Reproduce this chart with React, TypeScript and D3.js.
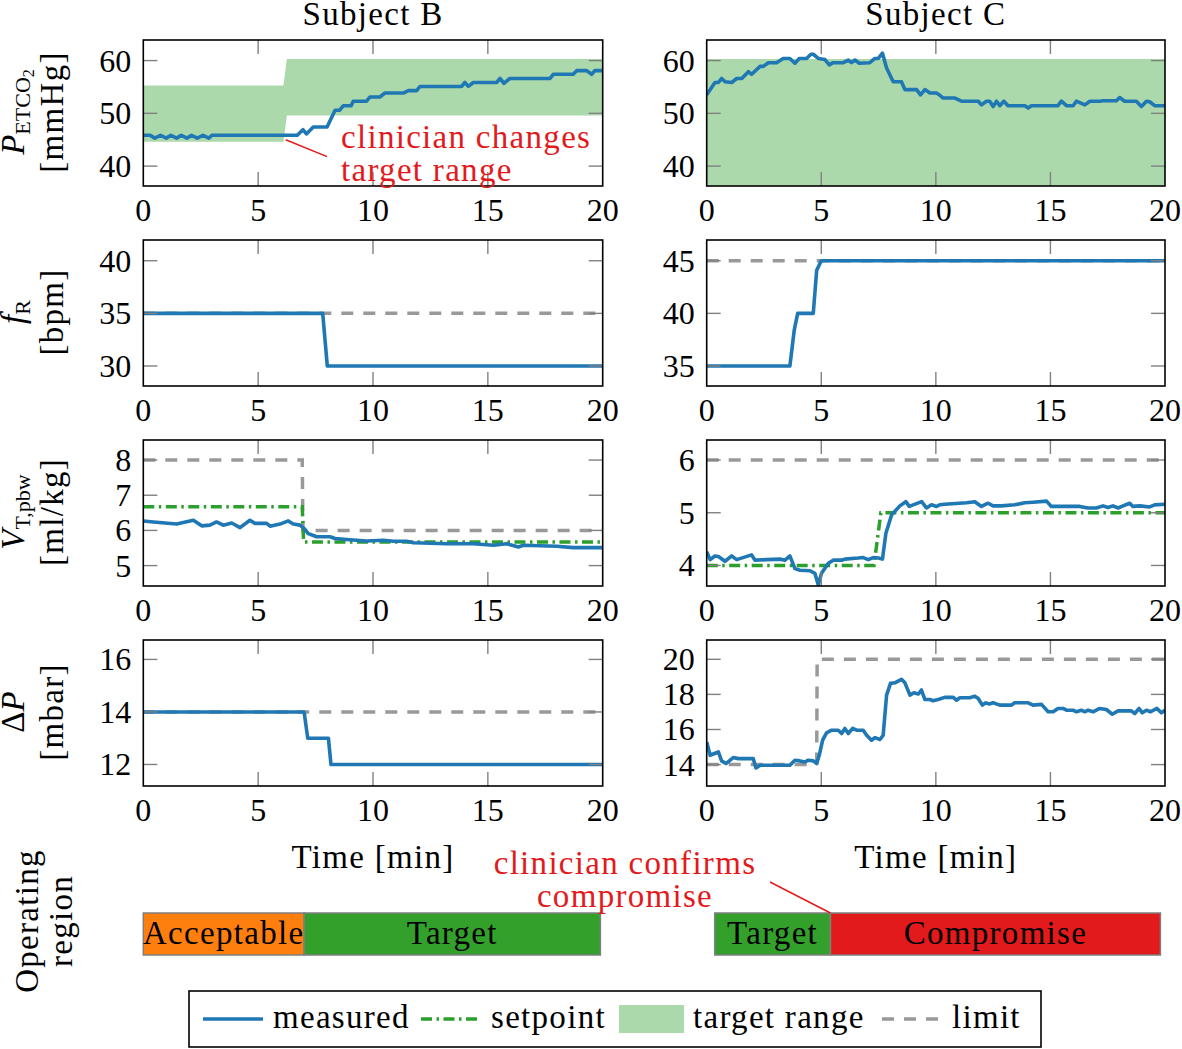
import React from "react";
import * as d3 from "d3";

type Pt = [number, number];

// ---------- data ----------
const subjects = ["Subject B", "Subject C"];
const timeTicks = [0, 5, 10, 15, 20];

const petco2B: Pt[] = [
  [0, 45.85], [0.3, 45.85], [0.5, 45.3], [0.75, 45.85], [1.0, 45.3], [1.2, 45.85], [1.45, 45.3],
  [1.65, 45.85], [1.9, 45.3], [2.1, 45.85], [2.35, 45.3], [2.6, 45.85], [2.85, 45.3], [3.0, 45.85],
  [6.7, 45.85], [6.95, 46.9], [7.1, 46.1], [7.4, 47.4], [8.0, 47.4], [8.35, 50.6], [8.55, 50.6],
  [8.71, 51.45], [9.05, 51.45], [9.14, 52.3], [9.72, 52.3], [9.87, 53.1], [10.3, 53.1], [10.52, 53.85],
  [11.32, 53.85], [11.54, 54.3], [11.9, 54.3], [12.05, 55.1], [13.86, 55.1], [14.0, 55.85], [14.15, 55.1],
  [14.37, 55.85], [15.38, 55.85], [15.53, 56.6], [15.7, 55.7], [15.96, 56.6], [17.7, 56.6], [17.85, 57.4],
  [18.72, 57.4], [18.87, 58.1], [19.3, 58.1], [19.52, 57.4], [19.66, 58.1], [20, 58.1],
];
const petco2C: Pt[] = [
  [0, 53.5], [0.36, 55.85], [0.51, 55.85], [0.65, 56.6], [0.8, 56.0], [1.09, 55.85], [1.31, 56.6],
  [1.53, 56.6], [1.82, 57.9], [1.96, 57.4], [2.33, 58.9], [2.47, 58.9], [2.69, 59.6], [3.05, 59.6],
  [3.34, 60.4], [3.63, 60.4], [3.85, 59.5], [4.04, 60.4], [4.36, 60.4], [4.55, 61.2], [4.65, 61.2],
  [4.87, 60.4], [5.16, 60.2], [5.35, 59.2], [5.52, 59.6], [5.96, 59.6], [6.18, 60.1], [6.32, 59.6],
  [6.47, 60.1], [6.66, 59.5], [7.12, 59.6], [7.34, 60.4], [7.49, 60.4], [7.67, 61.4], [7.85, 58.6],
  [8.14, 56.0], [8.5, 56.0], [8.65, 54.5], [9.16, 54.5], [9.33, 53.5], [9.52, 54.5], [9.74, 53.85],
  [10.03, 53.85], [10.15, 53.5], [10.32, 52.9], [10.83, 52.9], [11.12, 52.3], [11.85, 52.3], [11.99, 51.6],
  [12.21, 52.3], [12.35, 52.3], [12.5, 51.3], [12.65, 52.3], [12.79, 51.45], [12.97, 52.3], [13.15, 51.45],
  [13.88, 51.45], [14.03, 51.0], [14.17, 51.45], [15.33, 51.45], [15.48, 52.3], [15.7, 51.45], [15.99, 51.45],
  [16.13, 52.3], [16.5, 51.6], [16.72, 52.3], [17.15, 52.3], [17.3, 52.4], [17.88, 52.4], [18.02, 53.0],
  [18.24, 52.3], [18.75, 52.3], [18.97, 51.3], [19.19, 52.3], [19.33, 52.2], [19.55, 51.45], [20, 51.45],
];
// [time, lower, upper]
const targetRangeB: [number, number, number][] = [
  [0, 44.6, 55.3], [6.1, 44.6, 55.3], [6.25, 49.6, 60.3], [20, 49.6, 60.3],
];
const targetRangeC: [number, number, number][] = [
  [0, 30, 60.3], [20, 30, 60.3],
];

const fRB: Pt[] = [[0, 35], [7.81, 35], [8.01, 30], [20, 30]];
const fRLimitB: Pt[] = [[0, 35], [20, 35]];
const fRC: Pt[] = [[0, 35], [3.63, 35], [3.82, 38.4], [3.97, 40], [4.65, 40], [4.8, 44.1], [5.0, 45], [20, 45]];
const fRLimitC: Pt[] = [[0, 45], [20, 45]];

const vtB: Pt[] = [
  [0, 6.27], [0.44, 6.24], [1.45, 6.18], [2.18, 6.29], [2.54, 6.13], [2.9, 6.15], [3.19, 6.24],
  [3.48, 6.15], [3.85, 6.21], [4.21, 6.08], [4.64, 6.29], [4.86, 6.2], [5.37, 6.2], [5.52, 6.12],
  [5.95, 6.18], [6.31, 6.27], [6.53, 6.18], [6.82, 6.15], [7.01, 6.05], [7.18, 5.91], [7.55, 5.82],
  [8.13, 5.82], [8.35, 5.77], [8.85, 5.74], [9.72, 5.7], [10.45, 5.72], [10.89, 5.69], [11.47, 5.69],
  [11.76, 5.65], [13.21, 5.62], [14.37, 5.62], [15.24, 5.58], [15.82, 5.62], [16.33, 5.53], [16.55, 5.58],
  [18.0, 5.55], [18.72, 5.51], [20, 5.51],
];
const vtSetB: Pt[] = [[0, 6.67], [6.92, 6.67], [6.98, 5.67], [20, 5.67]];
const vtLimitB: Pt[] = [[0, 8], [6.92, 8], [6.95, 6], [20, 6]];
const vtC: Pt[] = [
  [0, 4.26], [0.15, 4.11], [0.36, 4.18], [0.51, 4.17], [0.8, 4.08], [1.09, 4.18], [1.31, 4.11],
  [1.96, 4.2], [2.11, 4.1], [2.62, 4.11], [3.2, 4.12], [3.42, 4.1], [3.63, 4.18], [3.85, 3.94],
  [4.07, 3.91], [4.51, 3.9], [4.72, 3.85], [4.87, 3.63], [5.01, 3.85], [5.31, 4.04], [5.52, 4.1],
  [5.89, 4.1], [6.03, 4.12], [6.61, 4.14], [6.83, 4.15], [7.05, 4.11], [7.27, 4.15], [7.49, 4.14],
  [7.67, 4.12], [7.82, 4.61], [8.07, 4.96], [8.43, 5.13], [8.69, 5.21], [8.84, 5.12], [9.38, 5.21],
  [9.59, 5.09], [9.81, 5.15], [10.03, 5.12], [10.17, 5.15], [10.39, 5.16], [11.34, 5.19], [11.7, 5.21],
  [11.99, 5.12], [12.28, 5.18], [12.5, 5.13], [12.86, 5.13], [13.44, 5.15], [13.88, 5.19], [14.24, 5.2],
  [14.83, 5.22], [15.04, 5.12], [15.7, 5.12], [16.28, 5.12], [16.64, 5.09], [17.0, 5.09], [17.3, 5.13],
  [17.51, 5.1], [17.73, 5.13], [17.95, 5.09], [18.17, 5.13], [18.46, 5.18], [18.6, 5.12], [18.9, 5.13],
  [19.33, 5.11], [19.55, 5.15], [20, 5.16],
];
const vtSetC: Pt[] = [[0, 4], [7.3, 4], [7.6, 5], [20, 5]];
const vtLimitC: Pt[] = [[0, 6], [20, 6]];

const dpB: Pt[] = [[0, 14], [7.0, 14], [7.16, 13], [8.06, 13], [8.17, 12], [20, 12]];
const dpLimitB: Pt[] = [[0, 14], [20, 14]];
const dpC: Pt[] = [
  [0, 15.29], [0.15, 14.53], [0.51, 14.72], [0.65, 14.21], [0.84, 14.06], [1.16, 14.4], [1.38, 14.34],
  [2.03, 14.34], [2.15, 13.81], [2.33, 13.96], [3.63, 13.96], [3.85, 14.25], [4.07, 14.21], [4.29, 14.15],
  [4.43, 14.25], [4.65, 14.21], [4.8, 14.06], [4.91, 14.53], [5.06, 15.39], [5.23, 15.81], [5.45, 15.96],
  [5.74, 15.96], [5.89, 15.77], [6.03, 16.06], [6.18, 15.77], [6.37, 16.06], [6.54, 15.96], [6.83, 15.96],
  [6.98, 15.67], [7.19, 15.39], [7.34, 15.54], [7.56, 15.43], [7.7, 15.67], [7.85, 17.96], [8.02, 18.63],
  [8.21, 18.66], [8.5, 18.86], [8.65, 18.66], [8.87, 17.96], [9.04, 18.09], [9.23, 18.02], [9.37, 18.25],
  [9.52, 17.71], [9.74, 17.71], [9.88, 17.64], [10.1, 17.71], [10.39, 17.83], [10.76, 17.83], [10.9, 17.67],
  [11.05, 17.81], [11.48, 17.81], [11.7, 17.9], [11.85, 17.77], [12.03, 17.39], [12.18, 17.52], [12.33, 17.45],
  [12.5, 17.52], [12.79, 17.39], [13.3, 17.39], [13.44, 17.52], [14.03, 17.52], [14.24, 17.39], [14.61, 17.43],
  [14.9, 17.01], [15.12, 17.01], [15.33, 17.2], [15.55, 17.2], [15.7, 17.1], [15.99, 17.1], [16.13, 17.01],
  [16.35, 17.1], [16.5, 17.01], [16.64, 17.1], [16.86, 17.01], [17.15, 17.2], [17.44, 17.14], [17.7, 16.87],
  [17.95, 17.06], [18.53, 17.06], [18.68, 16.91], [18.87, 17.2], [19.01, 16.95], [19.19, 17.1], [19.36, 17.01],
  [19.65, 17.2], [19.84, 16.95], [20, 17.1],
];
const dpLimitC: Pt[] = [[0, 14], [4.8, 14], [4.82, 20], [20, 20]];

const petco2Ticks = [40, 50, 60];
const fRTicksB = [30, 35, 40];
const fRTicksC = [35, 40, 45];
const vtTicksB = [5, 6, 7, 8];
const vtTicksC = [4, 5, 6];
const dpTicksB = [12, 14, 16];
const dpTicksC = [14, 16, 18, 20];

const opRegionsB = [
  { label: "Acceptable", from: 0, to: 7, kind: "acceptable" },
  { label: "Target", from: 7, to: 19.9, kind: "target" },
];
const opRegionsC = [
  { label: "Target", from: 0.35, to: 5.4, kind: "target" },
  { label: "Compromise", from: 5.4, to: 19.8, kind: "compromise" },
];

const legendItems = ["measured", "setpoint", "target range", "limit"];

// ---------- styles / layout ----------
const FONT = "'Liberation Serif', 'Times New Roman', serif";
const FS = 32;
const WFS = 33;
const LS = 1.3;
const BLUE = "#1f77b4";
const GREEN = "#2ca02c";
const GRAY = "#999999";
const FILL = "#acd9ab";
const RED = "#e31a1c";
const regionColor: Record<string, string> = {
  acceptable: "#ff7f0e",
  target: "#33a02c",
  compromise: "#e31a1c",
};

const COLS = [
  { x0: 143.3, x1: 602.7 },
  { x0: 706.7, x1: 1165 },
];
const ROW_TOPS = [40, 240, 440, 640];
const PH = 146;
const TICK = 14;

type PanelDef = {
  col: number;
  row: number;
  domain: [number, number];
  ticks: number[];
  measured: Pt[];
  setpoint?: Pt[];
  limit?: Pt[];
  range?: [number, number, number][];
};

const panels: PanelDef[] = [
  { col: 0, row: 0, domain: [36.23, 63.9], ticks: petco2Ticks, measured: petco2B, range: targetRangeB },
  { col: 1, row: 0, domain: [36.23, 63.9], ticks: petco2Ticks, measured: petco2C, range: targetRangeC },
  { col: 0, row: 1, domain: [28.1, 41.97], ticks: fRTicksB, measured: fRB, limit: fRLimitB },
  { col: 1, row: 1, domain: [33.1, 46.97], ticks: fRTicksC, measured: fRC, limit: fRLimitC },
  { col: 0, row: 2, domain: [4.42, 8.57], ticks: vtTicksB, measured: vtB, setpoint: vtSetB, limit: vtLimitB },
  { col: 1, row: 2, domain: [3.61, 6.38], ticks: vtTicksC, measured: vtC, setpoint: vtSetC, limit: vtLimitC },
  { col: 0, row: 3, domain: [11.18, 16.74], ticks: dpTicksB, measured: dpB, limit: dpLimitB },
  { col: 1, row: 3, domain: [12.78, 21.1], ticks: dpTicksC, measured: dpC, limit: dpLimitC },
];

function xScaleFor(col: number) {
  return d3.scaleLinear().domain([0, 20]).range([COLS[col].x0, COLS[col].x1]);
}

function Word(props: any) {
  return <text fontSize={WFS} fontFamily={FONT} letterSpacing={LS} {...props} />;
}

function Panel({ p, idx }: { p: PanelDef; idx: number }) {
  const top = ROW_TOPS[p.row];
  const bottom = top + PH;
  const x = xScaleFor(p.col);
  const y = d3.scaleLinear().domain(p.domain).range([bottom, top]);
  const line = d3.line<Pt>().x((d) => x(d[0])).y((d) => y(d[1]));
  const area = d3
    .area<[number, number, number]>()
    .x((d) => x(d[0]))
    .y0((d) => y(d[1]))
    .y1((d) => y(d[2]));
  const x0 = COLS[p.col].x0;
  const x1 = COLS[p.col].x1;
  const clipId = `clip-${idx}`;
  return (
    <g>
      <defs>
        <clipPath id={clipId}>
          <rect x={x0} y={top} width={x1 - x0} height={PH} />
        </clipPath>
      </defs>
      <g clipPath={`url(#${clipId})`}>
        {p.range && <path d={area(p.range) || ""} fill={FILL} stroke="none" />}
        {p.limit && (
          <path d={line(p.limit) || ""} fill="none" stroke={GRAY} strokeWidth={3.5} strokeDasharray="12 10" />
        )}
        {p.setpoint && (
          <path
            d={line(p.setpoint) || ""}
            fill="none"
            stroke={GREEN}
            strokeWidth={3.5}
            strokeDasharray="11 4.5 2.5 4.5"
          />
        )}
        <path d={line(p.measured) || ""} fill="none" stroke={BLUE} strokeWidth={3.6} strokeLinejoin="round" />
      </g>
      {timeTicks.slice(1, -1).map((t) => (
        <g key={`xt${t}`} stroke="#808080" strokeWidth={1.4}>
          <line x1={x(t)} x2={x(t)} y1={bottom} y2={bottom - TICK} />
          <line x1={x(t)} x2={x(t)} y1={top} y2={top + TICK} />
        </g>
      ))}
      {p.ticks.map((v) => (
        <g key={`yt${v}`} stroke="#808080" strokeWidth={1.4}>
          <line x1={x0} x2={x0 + TICK} y1={y(v)} y2={y(v)} />
          <line x1={x1} x2={x1 - TICK} y1={y(v)} y2={y(v)} />
        </g>
      ))}
      <rect x={x0} y={top} width={x1 - x0} height={PH} fill="none" stroke="#000" strokeWidth={1.6} />
      {timeTicks.map((t) => (
        <text key={`xl${t}`} x={x(t)} y={bottom + 35} textAnchor="middle" fontSize={FS} fontFamily={FONT}>
          {t}
        </text>
      ))}
      {p.ticks.map((v) => (
        <text key={`yl${v}`} x={x0 - 12} y={y(v) + 11} textAnchor="end" fontSize={FS} fontFamily={FONT}>
          {v}
        </text>
      ))}
    </g>
  );
}

function YLabel({ row, line1, line2 }: { row: number; line1: React.ReactNode; line2: string }) {
  const cy = ROW_TOPS[row] + 72;
  return (
    <g fontFamily={FONT} fontSize={WFS}>
      <text transform={`translate(24,${cy}) rotate(-90)`} textAnchor="middle">
        {line1}
      </text>
      <text transform={`translate(63,${cy}) rotate(-90)`} textAnchor="middle" letterSpacing={LS}>
        {line2}
      </text>
    </g>
  );
}

export default function App() {
  const xB = xScaleFor(0);
  const xC = xScaleFor(1);
  const barTop = 913;
  const barH = 42;
  const yB0 = d3.scaleLinear().domain([36.23, 63.9]).range([ROW_TOPS[0] + PH, ROW_TOPS[0]]);
  return (
    <svg
      width={1182}
      height={1049}
      style={{ position: "absolute", left: 0, top: 0, display: "block", background: "#fff" }}
    >
      <rect x={0} y={0} width={1182} height={1049} fill="#fff" />
      {subjects.map((s, i) => (
        <Word key={s} x={(COLS[i].x0 + COLS[i].x1) / 2} y={25} textAnchor="middle">
          {s}
        </Word>
      ))}
      {panels.map((p, i) => (
        <Panel key={i} p={p} idx={i} />
      ))}

      <YLabel
        row={0}
        line1={
          <>
            <tspan fontStyle="italic">P</tspan>
            <tspan fontSize={22} dy={6}>ETCO</tspan>
            <tspan fontSize={16} dy={4}>2</tspan>
          </>
        }
        line2="[mmHg]"
      />
      <YLabel
        row={1}
        line1={
          <>
            <tspan fontStyle="italic">f</tspan>
            <tspan fontSize={22} dy={6}>R</tspan>
          </>
        }
        line2="[bpm]"
      />
      <YLabel
        row={2}
        line1={
          <>
            <tspan fontStyle="italic">V</tspan>
            <tspan fontSize={22} dy={6}>T,pbw</tspan>
          </>
        }
        line2="[ml/kg]"
      />
      <YLabel
        row={3}
        line1={
          <>
            <tspan>Δ</tspan>
            <tspan fontStyle="italic">P</tspan>
          </>
        }
        line2="[mbar]"
      />

      {/* annotation top */}
      <line x1={xB(6.2)} y1={yB0(45.0)} x2={xB(8.0)} y2={yB0(41.8)} stroke={RED} strokeWidth={1.5} />
      <Word x={341} y={148} fill={RED}>
        clinician changes
      </Word>
      <Word x={341} y={181} fill={RED}>
        target range
      </Word>

      {COLS.map((c, i) => (
        <Word key={i} x={(c.x0 + c.x1) / 2} y={868} textAnchor="middle">
          Time [min]
        </Word>
      ))}

      {/* operating region */}
      <g fontFamily={FONT} fontSize={WFS} letterSpacing={LS}>
        <text transform="translate(38,921) rotate(-90)" textAnchor="middle">
          Operating
        </text>
        <text transform="translate(72,921) rotate(-90)" textAnchor="middle">
          region
        </text>
      </g>
      {[
        { regs: opRegionsB, x: xB },
        { regs: opRegionsC, x: xC },
      ].map((grp, gi) => (
        <g key={gi}>
          {grp.regs.map((r, ri) => (
            <g key={ri}>
              <rect
                x={grp.x(r.from)}
                y={barTop}
                width={grp.x(r.to) - grp.x(r.from)}
                height={barH}
                fill={regionColor[r.kind]}
                stroke="#7f7f7f"
                strokeWidth={1.5}
              />
              <Word x={(grp.x(r.from) + grp.x(r.to)) / 2} y={944} textAnchor="middle">
                {r.label}
              </Word>
            </g>
          ))}
        </g>
      ))}
      <line x1={770} y1={882} x2={xC(opRegionsC[1].from)} y2={barTop} stroke={RED} strokeWidth={1.5} />
      <Word x={625} y={874} textAnchor="middle" fill={RED}>
        clinician confirms
      </Word>
      <Word x={625} y={907} textAnchor="middle" fill={RED}>
        compromise
      </Word>

      {/* legend */}
      <rect x={189} y={991} width={852} height={56} fill="#fff" stroke="#000" strokeWidth={1.6} />
      <line x1={203} x2={263} y1={1019} y2={1019} stroke={BLUE} strokeWidth={3.6} />
      <Word x={273} y={1028}>{legendItems[0]}</Word>
      <line x1={421} x2={481} y1={1019} y2={1019} stroke={GREEN} strokeWidth={3.5} strokeDasharray="11 4.5 2.5 4.5" />
      <Word x={491} y={1028}>{legendItems[1]}</Word>
      <rect x={619} y={1005} width={65} height={28} fill={FILL} />
      <Word x={693} y={1028}>{legendItems[2]}</Word>
      <line x1={882} x2={942} y1={1019} y2={1019} stroke={GRAY} strokeWidth={3.5} strokeDasharray="12 10" />
      <Word x={952} y={1028}>{legendItems[3]}</Word>
    </svg>
  );
}
